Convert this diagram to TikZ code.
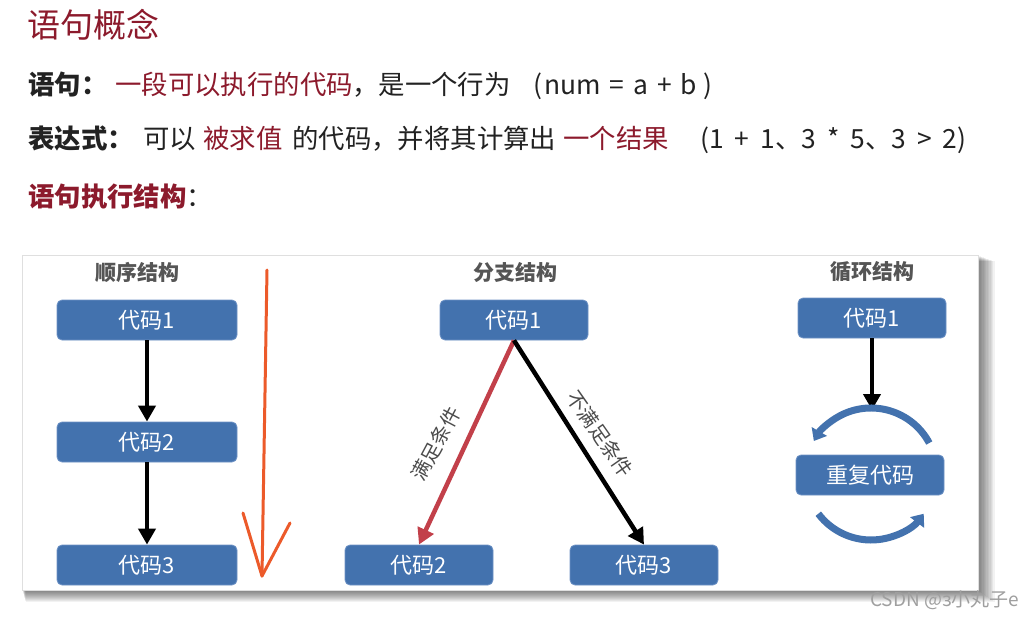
\documentclass[tikz,border=0pt]{standalone}
\usepackage{fontspec}
\setmainfont{Noto Sans CJK SC}
\usetikzlibrary{arrows.meta,calc}
\definecolor{titlered}{HTML}{8C1A2C}
\definecolor{boxblue}{HTML}{4372AE}
\definecolor{boxedge}{HTML}{6F93C6}
\definecolor{condred}{HTML}{C2404A}
\definecolor{penorange}{HTML}{EC5A2A}
\definecolor{txtdark}{HTML}{222222}
\definecolor{headgrey}{HTML}{555555}
\newcommand\mygap{\hspace{9pt}}
\newcommand\mygapb{\hspace{11pt}}
\begin{document}
\begin{tikzpicture}[x=1pt,y=-1pt,
  bodytext/.style={anchor=base west,inner sep=0,text=txtdark,font=\fontsize{26.4}{30}\selectfont},
  redtext/.style={bodytext,text=titlered},
  codebox/.style={fill=boxblue,draw=boxedge,line width=0.8pt,rounded corners=5pt,minimum height=40pt,text=white,inner sep=0,font=\fontsize{22}{24}\selectfont},
  widebox/.style={codebox,minimum width=180pt},
  narrowbox/.style={codebox,minimum width=148pt},
  headtext/.style={text=headgrey,font=\bfseries\fontsize{21}{24}\selectfont,inner sep=0},
  condtext/.style={text=headgrey!90!black,font=\fontsize{20}{22}\selectfont,inner sep=0},
  flowarrow/.style={line width=4.5pt,-{Triangle[width=17pt,length=16pt]}},
  looparc/.style={line width=7pt,boxblue,-{Triangle[width=17pt,length=11pt]}},
  penline/.style={line width=3pt,penorange,line cap=round}]
\useasboundingbox (0,0) rectangle (1026,618);
\fill[white] (0,0) rectangle (1026,618);

% header text
\node[anchor=base west,inner sep=0,text=titlered,font=\fontsize{33}{36}\selectfont] (title) at (27,38) {语句概念};
\node[bodytext,font=\bfseries\fontsize{26.4}{30}\selectfont] (l2a) at (28,95) {语句：};
\node[redtext] (l2b) at (115,95) {一段可以执行的代码};
\node[bodytext] (l2c) at (352,95) {，是一个行为};
\node[bodytext] (l2d) at (533,95) {(\hspace{2pt}num\mygap=\mygap a\mygap+\mygap b\hspace{6pt})};
\node[bodytext,font=\bfseries\fontsize{26.4}{30}\selectfont] (l3a) at (28,148) {表达式：};
\node[bodytext] (l3b) at (143,148) {可以};
\node[redtext] (l3c) at (203,148) {被求值};
\node[bodytext] (l3d) at (292,148) {的代码，并将其计算出};
\node[redtext] (l3e) at (563,148) {一个结果};
\node[bodytext] (l3f) at (700,148) {(1\mygapb+\mygapb 1、3\mygapb*\mygapb 5、3\mygapb>\mygapb 2)};
\node[redtext,font=\bfseries\fontsize{26.4}{30}\selectfont] (l4a) at (28,206) {语句执行结构};
\node[bodytext] (l4b) at (186,206) {：};

% panel with shadow
\foreach \d in {1,2,...,12}{
  \fill[black,opacity=0.05] (22+\d*0.3,255+\d*0.5) rectangle (978+\d*1.4,590+\d*1.0);
}
\filldraw[fill=white,draw=gray!25] (22,255) rectangle (978,590);

% sequential
\node[headtext] (h1) at (137,272) {顺序结构};
\node[widebox] (s1) at (147,320) {代码1};
\node[widebox] (s2) at (147,442) {代码2};
\node[widebox] (s3) at (147,565) {代码3};
\draw[flowarrow] (s1.south) -- (s2.north);
\draw[flowarrow] (s2.south) -- (s3.north);

% orange pen arrow
\coordinate (o1) at (267,270);
\coordinate (o2) at (262,576);
\coordinate (o3) at (243,513);
\coordinate (o4) at (290,523);
\draw[penline] (o1) -- (o2);
\draw[penline] (o3) -- (o2);
\draw[penline] (o4) -- (o2);

% branch
\node[headtext] (h2) at (515,272) {分支结构};
\node[narrowbox] (b1) at (514,320) {代码1};
\node[narrowbox] (b2) at (419,565) {代码2};
\node[narrowbox] (b3) at (644,565) {代码3};
\draw[flowarrow,condred] (b1.south) -- (b2.north);
\draw[flowarrow,black] (b1.south) -- (b3.north);
\node[condtext,rotate=62] (c1) at (436,444) {满足条件};
\node[condtext,rotate=-55] (c2) at (600,434) {不满足条件};

% loop
\node[headtext] (h3) at (872,272) {循环结构};
\node[narrowbox] (r1) at (872,318) {代码1};
\node[narrowbox] (r2) at (870,475) {重复代码};
\coordinate (lc) at (871,474);
\coordinate (ltop) at (872,410);
\draw[flowarrow] (r1.south) -- (ltop);
\draw[looparc] ($(lc)+(-28:66)$) arc[start angle=-28,end angle=-150,radius=66];
\draw[looparc] ($(lc)+(143:66)$) arc[start angle=143,end angle=37,radius=66];

% watermark
\node[anchor=west,inner sep=0,text=gray!75,font=\fontsize{19}{20}\selectfont] (wm) at (870,600) {CSDN @з小丸子e};
\end{tikzpicture}
\end{document}
